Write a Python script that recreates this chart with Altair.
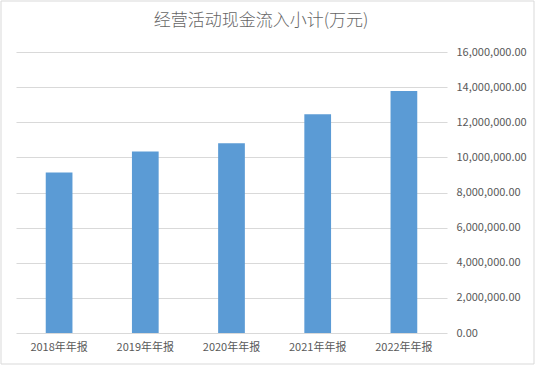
import altair as alt
import pandas as pd

categories = ["2018年年报", "2019年年报", "2020年年报", "2021年年报", "2022年年报"]
values = [9140000, 10330000, 10800000, 12450000, 13780000]
title_text = "经营活动现金流入小计(万元)"
y_ticks = [0, 2000000, 4000000, 6000000, 8000000, 10000000, 12000000, 14000000, 16000000]

df = pd.DataFrame({"period": categories, "value": values})

FONT = "Noto Sans CJK SC"
GRAY = "#595959"

bars = alt.Chart(df).mark_bar(color="#5b9bd5").encode(
    x=alt.X("period:N", sort=categories,
            scale=alt.Scale(paddingInner=0.69, paddingOuter=0.345),
            axis=alt.Axis(title=None, labelAngle=0, labelColor=GRAY, labelFontSize=11,
                          labelFont=FONT, ticks=False, domainColor="#d9d9d9",
                          labelPadding=8, grid=False, labelOverlap=False)),
    y=alt.Y("value:Q", scale=alt.Scale(domain=[0, 16000000], nice=False),
            axis=alt.Axis(title=None, orient="right", format=",.2f",
                          values=y_ticks, labelOverlap=False,
                          labelColor=GRAY, labelFontSize=11, labelFont=FONT,
                          ticks=False, domain=False, labelPadding=9,
                          gridColor="#d9d9d9", gridWidth=1)),
)

title = alt.Chart(pd.DataFrame({"t": [title_text]})).mark_text(
    font=FONT, fontSize=17, fontWeight=300, color="#666666", align="center", baseline="middle"
).encode(text="t:N", x=alt.value(245), y=alt.value(-31))

border = alt.Chart(pd.DataFrame({"a": [0]})).mark_rect(
    fill=None, stroke="#d9d9d9", strokeWidth=1
).encode(
    x=alt.value(-15), x2=alt.value(518), y=alt.value(-51), y2=alt.value(312)
)

chart = alt.layer(bars, title, border).properties(
    width=431, height=281,
    view=alt.ViewBackground(stroke=None, strokeWidth=0),
    autosize=alt.AutoSizeParams(type="none"),
    padding={"left": 16, "top": 52, "right": 88, "bottom": 32},
).configure(background="white", view=alt.ViewConfig(stroke=None, strokeWidth=0),
            axis=alt.AxisConfig(domain=False, ticks=False))

chart.save("out.html", embed_options={"renderer": "svg", "actions": False})
